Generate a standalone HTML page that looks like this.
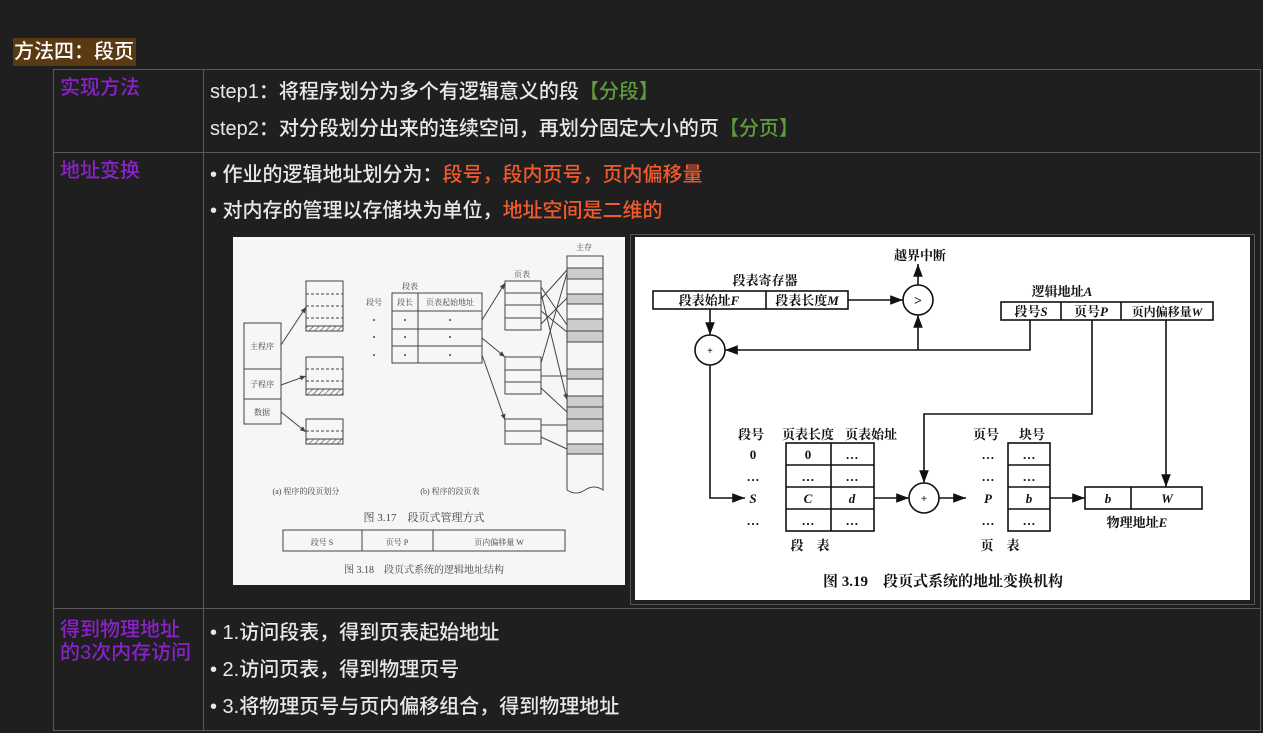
<!DOCTYPE html>
<html><head><meta charset="utf-8"><style>
body{margin:0;width:1263px;height:733px;background:#1f1f1f;overflow:hidden;font-family:"Liberation Sans","Noto Sans CJK SC",sans-serif;color:#e8e8e8;position:relative}
.a{position:absolute;white-space:nowrap}
.t{font-size:20px;line-height:22px;font-weight:500}
.p{color:#8a22c8;font-size:20px;line-height:22px;font-weight:500}
.g{color:#5f9a3c}.r{color:#f25a2c}
.ln{position:absolute;background:#5a5a5a}
</style></head><body>
<div class="a" style="left:13px;top:38px;width:123px;height:28px;background:#5a3a12"></div>
<div class="a" style="left:14px;top:39px;font-size:20px;color:#fff;line-height:26px;font-weight:500">方法四：段页</div>
<div class="ln" style="left:53px;top:69px;width:1208px;height:1px"></div>
<div class="ln" style="left:53px;top:152px;width:1208px;height:1px"></div>
<div class="ln" style="left:53px;top:608px;width:1208px;height:1px"></div>
<div class="ln" style="left:53px;top:730px;width:1208px;height:1px"></div>
<div class="ln" style="left:53px;top:69px;width:1px;height:662px"></div>
<div class="ln" style="left:203px;top:69px;width:1px;height:662px"></div>
<div class="ln" style="left:1260px;top:69px;width:1px;height:662px"></div>
<div class="a p" style="left:60px;top:77px">实现方法</div>
<div class="a p" style="left:60px;top:160px">地址变换</div>
<div class="a p" style="left:60px;top:619px;line-height:23px">得到物理地址<br>的3次内存访问</div>
<div class="a t" style="left:210px;top:81px">step1：将程序划分为多个有逻辑意义的段<span class="g">【分段】</span></div>
<div class="a t" style="left:210px;top:118px">step2：对分段划分出来的连续空间，再划分固定大小的页<span class="g">【分页】</span></div>
<div class="a t" style="left:210px;top:164px">• 作业的逻辑地址划分为：<span class="r">段号，段内页号，页内偏移量</span></div>
<div class="a t" style="left:210px;top:200px">• 对内存的管理以存储块为单位，<span class="r">地址空间是二维的</span></div>
<div class="a t" style="left:210px;top:622px">• 1.访问段表，得到页表起始地址</div>
<div class="a t" style="left:210px;top:659px">• 2.访问页表，得到物理页号</div>
<div class="a t" style="left:210px;top:696px">• 3.将物理页号与页内偏移组合，得到物理地址</div>
<div class="a" style="left:630px;top:234px;width:623px;height:369px;border:1px solid #555"></div>
<svg class="a" style="left:0;top:0" width="1263" height="733" font-family="Liberation Serif,Noto Serif CJK SC,serif">
<defs><marker id="m" markerWidth="8" markerHeight="6" refX="8" refY="3" orient="auto"><path d="M0,0L8,3L0,6z" fill="#111"/></marker>
<marker id="m2" markerWidth="6" markerHeight="5" refX="6" refY="2.5" orient="auto"><path d="M0,0L6,2.5L0,5z" fill="#444"/></marker>
<pattern id="h" width="4" height="4" patternUnits="userSpaceOnUse" patternTransform="rotate(45)"><line x1="0" y1="0" x2="0" y2="4" stroke="#444" stroke-width="1.2"/></pattern></defs>
<rect x="233" y="237" width="392" height="348" fill="#f6f6f6"/>
<g stroke="#444" fill="none" stroke-width="1">
<rect x="244" y="323" width="37" height="101"/><line x1="244" y1="369" x2="281" y2="369"/><line x1="244" y1="399" x2="281" y2="399"/>
<rect x="306" y="281" width="37" height="50"/><rect x="306" y="326" width="37" height="5" fill="url(#h)"/>
<path d="M306,294h37M306,306h37M306,318h37" stroke-dasharray="3,2"/>
<rect x="306" y="357" width="37" height="38"/><rect x="306" y="389" width="37" height="6" fill="url(#h)"/>
<path d="M306,369h37M306,381h37" stroke-dasharray="3,2"/>
<rect x="306" y="419" width="37" height="25"/><rect x="306" y="439" width="37" height="5" fill="url(#h)"/>
<path d="M306,431h37" stroke-dasharray="3,2"/>
<line x1="281" y1="345" x2="306" y2="307" marker-end="url(#m2)"/><line x1="281" y1="385" x2="306" y2="376" marker-end="url(#m2)"/><line x1="281" y1="412" x2="306" y2="432" marker-end="url(#m2)"/>
<rect x="392" y="293" width="90" height="70"/><line x1="418" y1="293" x2="418" y2="363"/><path d="M392,311h90M392,329h90M392,346h90"/>
<rect x="505" y="281" width="36" height="49"/><path d="M505,293h36M505,305h36M505,318h36"/>
<rect x="505" y="357" width="36" height="37"/><path d="M505,370h36M505,382h36"/>
<rect x="505" y="419" width="36" height="25"/><path d="M505,431h36"/>
<line x1="482" y1="320" x2="505" y2="283" marker-end="url(#m2)"/><line x1="482" y1="338" x2="505" y2="357" marker-end="url(#m2)"/><line x1="482" y1="355" x2="505" y2="420" marker-end="url(#m2)"/>
<g fill="#ccc" stroke="none"><rect x="567" y="268" width="36" height="11"/><rect x="567" y="294" width="36" height="10"/><rect x="567" y="319" width="36" height="23"/><rect x="567" y="369" width="36" height="10"/><rect x="567" y="396" width="36" height="35"/><rect x="567" y="444" width="36" height="10"/></g>
<path d="M567,490V256h36v234q-9,-6 -18,0t-18,0"/>
<path d="M567,268h36M567,279h36M567,294h36M567,304h36M567,319h36M567,331h36M567,342h36M567,369h36M567,379h36M567,396h36M567,407h36M567,419h36M567,431h36M567,444h36M567,454h36"/>
<path d="M541,287L567,325M541,299L567,270M541,311L567,332M541,324L567,298M541,363L567,273M541,376L567,376M541,388L567,412M541,425L567,425M541,437L567,449M541,293L567,400" marker-end="url(#m2)"/>
<rect x="283" y="530" width="282" height="21"/><line x1="362" y1="530" x2="362" y2="551"/><line x1="433" y1="530" x2="433" y2="551"/>
</g>
<g fill="#444" font-size="8" text-anchor="middle">
<text x="262" y="349">主程序</text><text x="262" y="387">子程序</text><text x="262" y="415">数据</text>
<text x="374" y="305">段号</text><text x="410" y="289">段表</text><text x="405" y="305">段长</text><text x="450" y="305">页表起始地址</text>
<text x="374" y="323">•</text><text x="374" y="340">•</text><text x="374" y="358">•</text>
<text x="405" y="323">•</text><text x="405" y="340">•</text><text x="405" y="358">•</text>
<text x="450" y="323">•</text><text x="450" y="340">•</text><text x="450" y="358">•</text>
<text x="522" y="277">页表</text><text x="584" y="250">主存</text>
<text x="306" y="494">(a) 程序的段页划分</text><text x="450" y="494">(b) 程序的段页表</text>
<text x="424" y="521" font-size="11">图 3.17　段页式管理方式</text>
<text x="322" y="545">段号 S</text><text x="397" y="545">页号 P</text><text x="499" y="545">页内偏移量 W</text>
<text x="424" y="573" font-size="10">图 3.18　段页式系统的逻辑地址结构</text>
</g>
<rect x="635" y="237" width="615" height="363" fill="#fff"/>
<g stroke="#111" fill="none" stroke-width="1.6">
<rect x="653" y="291" width="195" height="18"/><line x1="766" y1="291" x2="766" y2="309"/>
<circle cx="918" cy="300" r="15"/><line x1="918" y1="285" x2="918" y2="264" marker-end="url(#m)"/>
<line x1="848" y1="300" x2="903" y2="300" marker-end="url(#m)"/>
<rect x="1001" y="302" width="212" height="18"/><line x1="1061" y1="302" x2="1061" y2="320"/><line x1="1121" y1="302" x2="1121" y2="320"/>
<circle cx="710" cy="350" r="15"/><line x1="710" y1="309" x2="710" y2="335" marker-end="url(#m)"/>
<path d="M1030,320V350H725" marker-end="url(#m)"/><line x1="918" y1="350" x2="918" y2="315" marker-end="url(#m)"/>
<path d="M710,365V498H745" marker-end="url(#m)"/>
<path d="M1092,320V414H924V483" marker-end="url(#m)"/>
<line x1="1166" y1="320" x2="1166" y2="487" marker-end="url(#m)"/>
<rect x="786" y="443" width="88" height="88"/><line x1="831" y1="443" x2="831" y2="531"/><path d="M786,465h88M786,487h88M786,509h88"/>
<circle cx="924" cy="498" r="15"/>
<line x1="874" y1="498" x2="909" y2="498" marker-end="url(#m)"/><line x1="939" y1="498" x2="966" y2="498" marker-end="url(#m)"/>
<rect x="1008" y="443" width="42" height="88"/><path d="M1008,465h42M1008,487h42M1008,509h42"/>
<line x1="1050" y1="498" x2="1085" y2="498" marker-end="url(#m)"/>
<rect x="1085" y="487" width="117" height="22"/><line x1="1131" y1="487" x2="1131" y2="509"/>
</g>
<g fill="#111" font-size="13" font-weight="bold" text-anchor="middle">
<text x="920" y="260">越界中断</text><text x="765" y="285">段表寄存器</text>
<text x="709" y="305">段表始址<tspan font-style="italic">F</tspan></text><text x="807" y="305">段表长度<tspan font-style="italic">M</tspan></text>
<text x="918" y="305" font-size="14">&gt;</text><text x="710" y="354" font-size="10">+</text><text x="924" y="502" font-size="11">+</text>
<text x="1062" y="296">逻辑地址<tspan font-style="italic">A</tspan></text>
<text x="1031" y="316">段号<tspan font-style="italic">S</tspan></text><text x="1091" y="316">页号<tspan font-style="italic">P</tspan></text><text x="1167" y="316" font-size="12">页内偏移量<tspan font-style="italic">W</tspan></text>
<text x="751" y="439">段号</text><text x="808" y="439">页表长度</text><text x="871" y="439">页表始址</text>
<text x="753" y="459">0</text><text x="753" y="481">…</text><text x="753" y="503" font-style="italic">S</text><text x="753" y="525">…</text>
<text x="808" y="459">0</text><text x="852" y="459">…</text><text x="808" y="481">…</text><text x="852" y="481">…</text>
<text x="808" y="503" font-style="italic">C</text><text x="852" y="503" font-style="italic">d</text><text x="808" y="525">…</text><text x="852" y="525">…</text>
<text x="986" y="439">页号</text><text x="1032" y="439">块号</text>
<text x="988" y="459">…</text><text x="988" y="481">…</text><text x="988" y="503" font-style="italic">P</text><text x="988" y="525">…</text>
<text x="1029" y="459">…</text><text x="1029" y="481">…</text><text x="1029" y="503" font-style="italic">b</text><text x="1029" y="525">…</text>
<text x="1108" y="503" font-style="italic">b</text><text x="1167" y="503" font-style="italic">W</text>
<text x="1137" y="527">物理地址<tspan font-style="italic">E</tspan></text>
<text x="810" y="550">段　表</text><text x="1000" y="550">页　表</text>
<text x="943" y="586" font-size="15">图 3.19　段页式系统的地址变换机构</text>
</g>
</svg>
</body></html>
